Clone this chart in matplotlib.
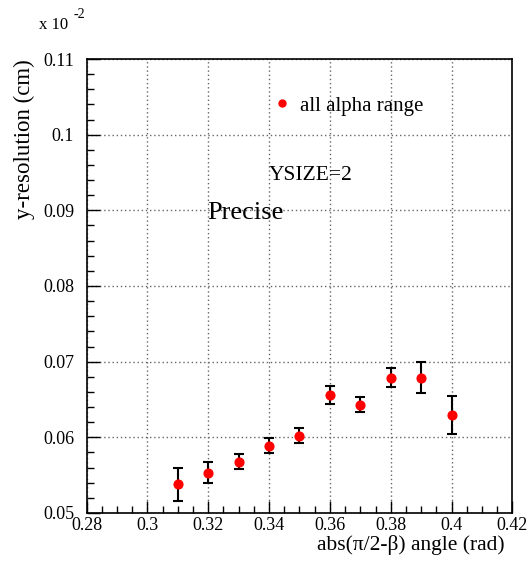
import matplotlib
matplotlib.use('Agg')
import matplotlib.pyplot as plt
from matplotlib.lines import Line2D
from matplotlib.ticker import MultipleLocator, FixedFormatter, FixedLocator

# ── data ──────────────────────────────────────────────────────────────────────
angle = [0.31, 0.32, 0.33, 0.34, 0.35, 0.36, 0.37, 0.38, 0.39, 0.40]
yres = [0.0538, 0.0553, 0.0568, 0.0589, 0.0602, 0.0656, 0.0643, 0.0679, 0.0679, 0.0630]
yerr = [0.0022, 0.0014, 0.0010, 0.0010, 0.0010, 0.0012, 0.0010, 0.0012, 0.0020, 0.0025]

xticks = [0.28, 0.30, 0.32, 0.34, 0.36, 0.38, 0.40, 0.42]
xtick_labels = ['0.28', '0.3', '0.32', '0.34', '0.36', '0.38', '0.4', '0.42']
yticks = [0.05, 0.06, 0.07, 0.08, 0.09, 0.10, 0.11]
ytick_labels = ['0.05', '0.06', '0.07', '0.08', '0.09', '0.1', '0.11']

plt.rcParams['font.family'] = ['Liberation Serif', 'DejaVu Serif']

fig = plt.figure(figsize=(5.31, 5.61), dpi=100)
ax = fig.add_axes([0.163, 0.0856, 0.802, 0.8092])

ax.errorbar(angle, yres, yerr=yerr, fmt='o', color='red', ms=6.3,
            ecolor='black', elinewidth=1.5, capsize=3.4, capthick=1.5,
            zorder=3)

ax.set_xlim(0.28, 0.42)
ax.set_ylim(0.05, 0.11)
ax.xaxis.set_major_locator(FixedLocator(xticks))
ax.xaxis.set_major_formatter(FixedFormatter(xtick_labels))
ax.yaxis.set_major_locator(FixedLocator(yticks))
ax.yaxis.set_major_formatter(FixedFormatter(ytick_labels))
ax.xaxis.set_minor_locator(MultipleLocator(0.005))
ax.yaxis.set_minor_locator(MultipleLocator(0.002))
ax.tick_params(which='both', direction='in', top=False, right=False,
               labelsize=13, width=1)
ax.tick_params(which='major', length=9)
ax.tick_params(which='minor', length=5)
ax.tick_params(axis='y', pad=9)
ax.tick_params(axis='x', pad=3)
for sp in ax.spines.values():
    sp.set_linewidth(1.2)

ax.grid(True, which='major', linestyle=(0, (1, 2)), color='#666666', linewidth=1)

ax.set_ylabel('y-resolution (cm)', fontsize=16.5, loc='top')
ax.yaxis.set_label_coords(-0.12, 1.0)
ax.set_xlabel('abs(π/2-β) angle (rad)', fontsize=15.5, ha='right', va='center')
ax.xaxis.set_label_coords(0.982, -0.071)

handle = Line2D([], [], marker='o', ls='none', color='red', ms=5)
ax.legend(handles=[handle], labels=['all alpha range'], frameon=False,
          loc='center left', bbox_to_anchor=(0.444, 0.897), fontsize=15,
          handlelength=0.6, handletextpad=0.56, borderpad=0, borderaxespad=0)

ax.text(0.3538, 0.0946, 'YSIZE=2', fontsize=15.5, ha='center', va='center')
ax.text(0.3321, 0.0897, 'Precise', fontsize=19, ha='center', va='center')

fig.text(39 / 531, 1 - 25 / 561, 'x 10', fontsize=12, ha='left', va='center')
fig.text(74 / 531, 1 - 14 / 561, '-2', fontsize=10, ha='left', va='center')

fig.savefig('out.png', dpi=100)
